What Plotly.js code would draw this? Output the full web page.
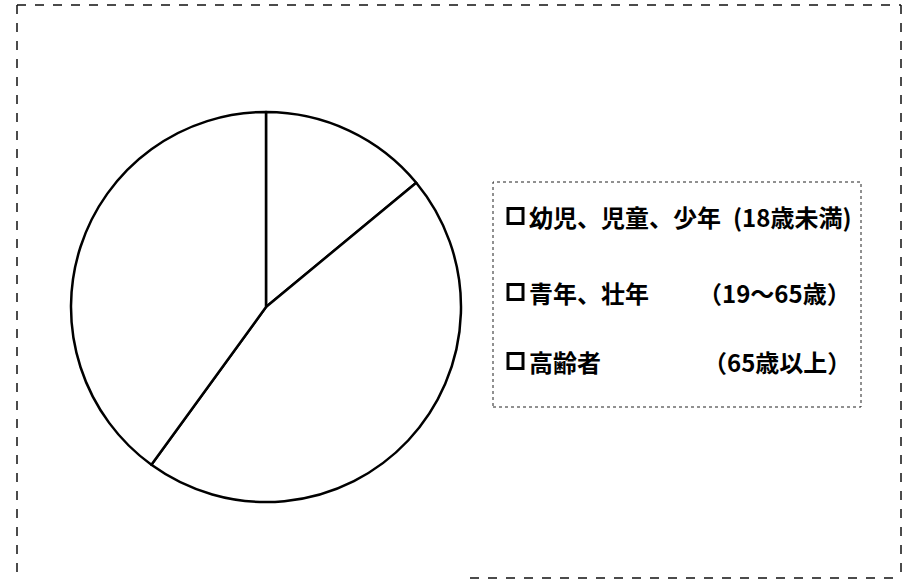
<!DOCTYPE html>
<html>
<head>
<meta charset="utf-8">
<script src="https://cdn.plot.ly/plotly-3.0.1.min.js"></script>
<style>
  html, body { margin: 0; padding: 0; background: #fff; }
  #chart { width: 907px; height: 580px; }
</style>
</head>
<body>
<div id="chart"></div>
<script>
// age groups (share of total)
const groupNames = ['幼児、児童、少年', '青年、壮年', '高齢者'];
const groupAges = ['(18歳未満)', '（19～65歳）', '（65歳以上）'];
const groupValues = [14, 46, 40];

const W = 907, H = 580;
// pixel -> paper helpers
const px = x => x / W;
const py = y => 1 - y / H;

const font = { family: 'Noto Sans CJK JP, sans-serif', size: 24, color: '#000' };

const pie = {
    type: 'pie',
    labels: groupNames,
    values: groupValues,
    sort: false,
    direction: 'clockwise',
    rotation: 0,
    textinfo: 'none',
    hoverinfo: 'none',
    showlegend: false,
    marker: {
        colors: groupNames.map(() => '#ffffff'),
        line: { color: '#000', width: 2.5 }
    },
    domain: { x: [px(266 - 195), px(266 + 195)], y: [py(307 + 195), py(307 - 195)] }
};

// hand-built legend, rows about 72px apart
const rowY = [216, 292, 361];
const shapes = [];
const annotations = [];

// outer frame (the scan shows a broken line, bottom only on the right half)
const frameLine = { color: '#111', width: 1.5, dash: 'dash' };
[
    [17, 5, 901, 5],
    [17, 5, 17, 580],
    [901, 5, 901, 580],
    [470, 578, 901, 578]
].forEach(([x0, y0, x1, y1]) => shapes.push({
    type: 'line', xref: 'paper', yref: 'paper',
    x0: px(x0), y0: py(y0), x1: px(x1), y1: py(y1), line: frameLine
}));

// legend box
shapes.push({
    type: 'rect', xref: 'paper', yref: 'paper',
    x0: px(493), x1: px(861), y0: py(407), y1: py(182),
    line: { color: '#222', width: 1, dash: 'dot' }
});

groupNames.forEach((name, i) => {
    const y = rowY[i];
    shapes.push({
        type: 'rect', xref: 'paper', yref: 'paper',
        x0: px(508), x1: px(523), y0: py(y + 7.5), y1: py(y - 7.5),
        fillcolor: '#fff',
        line: { color: '#000', width: 3 }
    });
    annotations.push({
        xref: 'paper', yref: 'paper', x: px(527), y: py(y),
        xanchor: 'left', yanchor: 'middle', showarrow: false,
        text: '<b>' + name + '</b>', font: font
    });
    annotations.push({
        xref: 'paper', yref: 'paper', x: px(853), y: py(y),
        xanchor: 'right', yanchor: 'middle', showarrow: false,
        text: '<b>' + groupAges[i] + '</b>', font: font
    });
});

const layout = {
    width: W,
    height: H,
    margin: { l: 0, r: 0, t: 0, b: 0 },
    paper_bgcolor: '#fff',
    plot_bgcolor: '#fff',
    showlegend: false,
    shapes: shapes,
    annotations: annotations
};

Plotly.newPlot('chart', [pie], layout, { displayModeBar: false, staticPlot: true });
</script>
</body>
</html>
